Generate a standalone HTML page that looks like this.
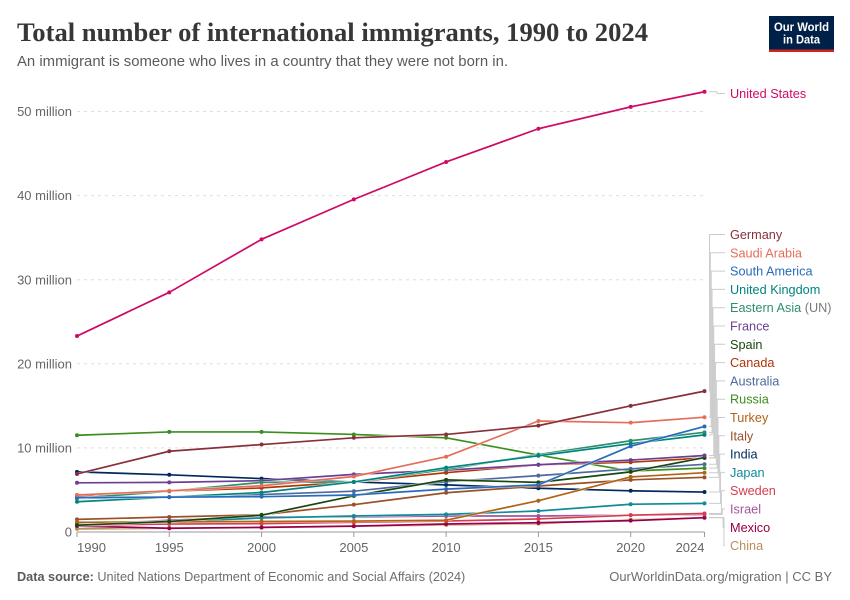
<!DOCTYPE html>
<html lang="en">
<head>
<meta charset="utf-8">
<title>Total number of international immigrants, 1990 to 2024</title>
<style>
html,body{margin:0;padding:0;background:#fff;}
body{width:850px;height:600px;overflow:hidden;}
svg{display:block;font-family:"Liberation Sans",Arial,sans-serif;}
</style>
</head>
<body>
<svg id="chart" xmlns="http://www.w3.org/2000/svg" width="850" height="600" viewBox="0 0 850 600">
  <text x="17" y="41" font-family="'Liberation Serif',serif" font-weight="700" font-size="26" fill="#373737" textLength="631" lengthAdjust="spacingAndGlyphs">Total number of international immigrants, 1990 to 2024</text>
  <text x="17" y="66" font-size="14.5" fill="#5b5b5b" textLength="491" lengthAdjust="spacingAndGlyphs">An immigrant is someone who lives in a country that they were not born in.</text>
  <g>
    <rect x="769" y="16" width="65" height="36" fill="#002147"/>
    <rect x="769" y="49.5" width="65" height="2.5" fill="#ce261e"/>
    <text x="801.5" y="31" text-anchor="middle" font-size="12" font-weight="700" fill="#fff" textLength="55" lengthAdjust="spacingAndGlyphs">Our World</text>
    <text x="801.5" y="43.5" text-anchor="middle" font-size="12" font-weight="700" fill="#fff" textLength="37" lengthAdjust="spacingAndGlyphs">in Data</text>
  </g>
  <g id="grid"></g>
  <g id="yticks"></g>
  <g id="xaxis"></g>
  <g id="connectors"></g>
  <g id="series"></g>
  <g id="labels"></g>
  <text x="17" y="581" font-size="12.7" fill="#5b5b5b"><tspan font-weight="700">Data source:</tspan> <tspan fill="#6e6e6e">United Nations Department of Economic and Social Affairs (2024)</tspan></text>
  <text x="832" y="581" text-anchor="end" font-size="13" fill="#6e6e6e">OurWorldinData.org/migration | CC BY</text>
</svg>
<script>
const years = [1990, 1995, 2000, 2005, 2010, 2015, 2020, 2024];
const yTickValues = [0, 10, 20, 30, 40, 50];
const yTickLabels = ["0", "10 million", "20 million", "30 million", "40 million", "50 million"];
const xTickLabels = ["1990", "1995", "2000", "2005", "2010", "2015", "2020", "2024"];

const unitedStates = [23.3, 28.5, 34.8, 39.55, 44.0, 47.95, 50.55, 52.35];
const germany = [6.9, 9.6, 10.4, 11.2, 11.6, 12.65, 15.0, 16.75];
const saudiArabia = [4.4, 4.9, 5.5, 6.6, 8.95, 13.2, 13.0, 13.65];
const southAmerica = [4.1, 4.15, 4.2, 4.4, 5.1, 5.6, 10.2, 12.55];
const unitedKingdom = [3.6, 4.15, 4.7, 5.95, 7.65, 9.07, 10.5, 11.55];
const easternAsia = [4.0, 4.85, 5.9, 5.95, 7.45, 9.2, 10.85, 11.85];
const france = [5.85, 5.9, 6.1, 6.85, 7.35, 8.0, 8.55, 9.1];
const spain = [0.8, 1.25, 2.0, 4.3, 6.2, 5.9, 7.15, 8.85];
const canada = [4.3, 4.85, 5.25, 5.95, 7.05, 8.0, 8.3, 8.8];
const australia = [4.0, 4.15, 4.45, 4.85, 5.98, 6.7, 7.5, 8.05];
const russia = [11.5, 11.9, 11.9, 11.6, 11.2, 9.15, 7.25, 7.6];
const turkey = [1.15, 1.2, 1.25, 1.3, 1.4, 3.72, 6.55, 7.05];
const italy = [1.5, 1.78, 2.05, 3.25, 4.67, 5.47, 6.2, 6.5];
const india = [7.15, 6.8, 6.35, 5.95, 5.6, 5.2, 4.9, 4.75];
const japan = [0.9, 1.2, 1.67, 1.9, 2.1, 2.5, 3.3, 3.4];
const sweden = [0.8, 0.95, 1.0, 1.15, 1.3, 1.55, 2.0, 2.2];
const israel = [0.85, 1.4, 1.8, 1.8, 1.9, 1.9, 2.0, 2.1];
const mexico = [0.7, 0.45, 0.55, 0.7, 0.95, 1.1, 1.35, 1.7];
const china = [0.37, 0.45, 0.5, 0.68, 0.85, 1.0, 1.45, 1.72];

const seriesNames = ["Germany", "Saudi Arabia", "South America", "United Kingdom", "Eastern Asia", "France", "Spain", "Canada", "Australia", "Russia", "Turkey", "Italy", "India", "Japan", "Sweden", "Israel", "Mexico", "China"];
const seriesValues = [germany, saudiArabia, southAmerica, unitedKingdom, easternAsia, france, spain, canada, australia, russia, turkey, italy, india, japan, sweden, israel, mexico, china];
const seriesColors = ["#883039", "#E56E5A", "#286BBB", "#00847E", "#2f8f6e", "#6D3E91", "#18470F", "#B13507", "#4C6A9C", "#3B8E1D", "#B16214", "#9A5129", "#00295B", "#0f8b9a", "#D73C50", "#A2559C", "#970046", "#BC8E5A"];

const NS = "http://www.w3.org/2000/svg";
const xScale = function (yr) { return 77 + (yr - 1990) * (704.5 - 77) / 34; };
const yScale = function (v) { return 532 - v * 8.41; };
function make(tag, parent, attrs) {
  const el = document.createElementNS(NS, tag);
  for (const k in attrs) el.setAttribute(k, attrs[k]);
  parent.appendChild(el);
  return el;
}
function slug(s) { return s.toLowerCase().replace(/\s+/g, "-"); }

const grid = document.getElementById("grid");
const yticks = document.getElementById("yticks");
yTickValues.forEach(function (v, i) {
  if (v !== 0) {
    const g = make("line", grid, {x1: 77, x2: 704.5, y1: yScale(v), y2: yScale(v), stroke: "#dddddd", "stroke-dasharray": "3,4", "stroke-width": 1});
    
    
  }
  const t = make("text", yticks, {x: 72, y: yScale(v) + 4.6, "text-anchor": "end", "font-size": 13, fill: "#666666"});
  t.textContent = yTickLabels[i];
  
  
});

const xaxis = document.getElementById("xaxis");
const axisLine = make("line", xaxis, {x1: 77, x2: 704.5, y1: 532, y2: 532, stroke: "#999999", "stroke-width": 1});


years.forEach(function (yr, i) {
  const tick = make("line", xaxis, {x1: xScale(yr), x2: xScale(yr), y1: 532, y2: 537, stroke: "#999999", "stroke-width": 1});
  
  
  const anchor = i === 0 ? "start" : (i === years.length - 1 ? "end" : "middle");
  const t = make("text", xaxis, {x: xScale(yr), y: 552, "text-anchor": anchor, "font-size": 13, fill: "#666666"});
  t.textContent = xTickLabels[i];
  
  
});

const connectors = document.getElementById("connectors");
const seriesG = document.getElementById("series");
const labelsG = document.getElementById("labels");

function drawSeries(name, values, color) {
  const pts = values.map(function (v, i) { return xScale(years[i]).toFixed(2) + "," + yScale(v).toFixed(2); }).join(" ");
  const g = make("g", seriesG, {});
  
  
  const halo = make("polyline", g, {points: pts, fill: "none", stroke: "#ffffff", "stroke-width": 2.6, "stroke-linejoin": "round", opacity: 0.8});
  
  
  const line = make("polyline", g, {points: pts, fill: "none", stroke: color, "stroke-width": 1.7, "stroke-linejoin": "round"});
  
  
  values.forEach(function (v, i) {
    const c = make("circle", g, {cx: xScale(years[i]), cy: yScale(v), r: 2, fill: color});
    
    
  });
}

function drawConnector(value, labelY, midX) {
  const y0 = yScale(value);
  const c = make("polyline", connectors, {points: "709," + y0 + " " + midX + "," + y0 + " " + midX + "," + labelY + " 725," + labelY, fill: "none", stroke: "#cccccc", "stroke-width": 1});
  
  
}

function drawLabel(name, labelY, color) {
  const t = make("text", labelsG, {x: 730, y: labelY + 4.5, "font-size": 12.7, fill: color});
  t.textContent = name;
  
  
  if (name === "Eastern Asia") {
    const s = make("tspan", t, {fill: "#7a7a7a"});
    s.textContent = " (UN)";
    
    
  }
}

for (let i = seriesNames.length - 1; i >= 0; i--) {
  const labelY = 234.5 + i * 18.3;
  const last = seriesValues[i][seriesValues[i].length - 1];
  drawConnector(last, labelY, 709.5 + i * 0.85);
}
drawConnector(unitedStates[unitedStates.length - 1], 93.5, 717);

for (let i = seriesNames.length - 1; i >= 0; i--) {
  drawSeries(seriesNames[i], seriesValues[i], seriesColors[i]);
}
drawSeries("United States", unitedStates, "#CF0A66");

seriesNames.forEach(function (name, i) {
  drawLabel(name, 234.5 + i * 18.3, seriesColors[i]);
});
drawLabel("United States", 93.5, "#CF0A66");
</script>
</body>
</html>
